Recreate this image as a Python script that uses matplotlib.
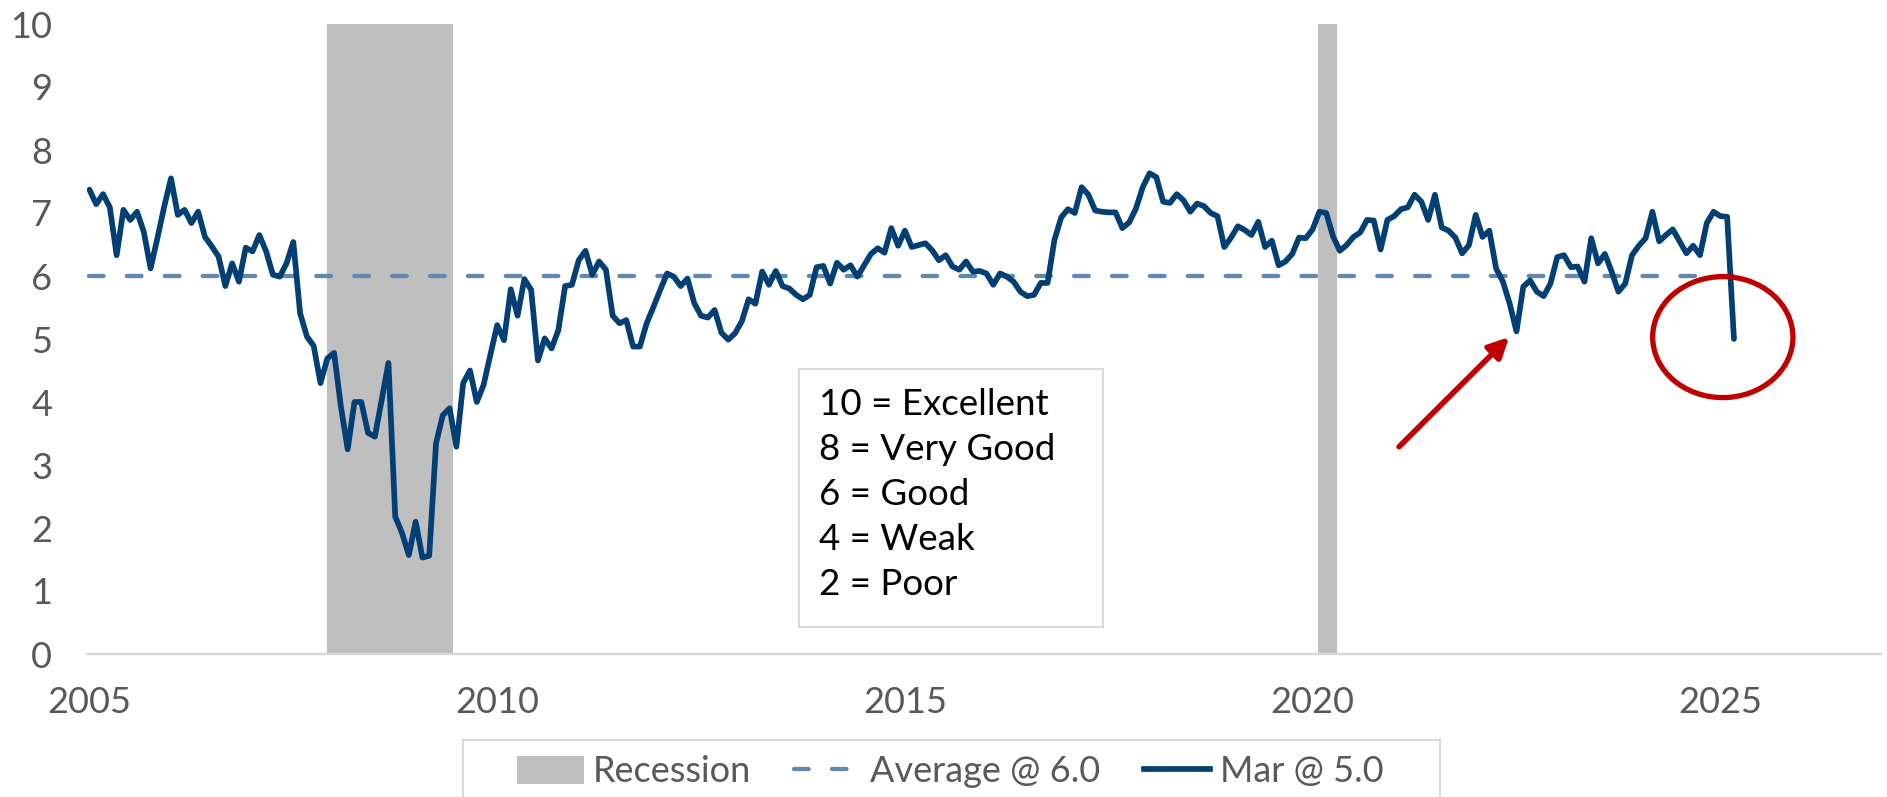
import matplotlib
matplotlib.use("Agg")
import matplotlib.pyplot as plt
from matplotlib.patches import Patch, Rectangle, Ellipse
from matplotlib.lines import Line2D

plt.rcParams['font.family'] = ['Lato', 'DejaVu Sans']

# monthly index, Jan 2005 .. Mar 2025
values = [
    7.37, 7.14, 7.30, 7.09, 6.33, 7.05, 6.89, 7.02, 6.70, 6.12, 6.60, 7.10,   # 2005
    7.55, 6.97, 7.05, 6.84, 7.02, 6.62, 6.47, 6.31, 5.84, 6.20, 5.91, 6.45,   # 2006
    6.39, 6.65, 6.39, 6.02, 5.99, 6.20, 6.54, 5.41, 5.04, 4.89, 4.30, 4.69,   # 2007
    4.78, 3.93, 3.25, 4.00, 4.00, 3.51, 3.45, 4.03, 4.62, 2.18, 1.92, 1.57,   # 2008
    2.10, 1.53, 1.56, 3.34, 3.79, 3.90, 3.29, 4.30, 4.50, 4.00, 4.27, 4.75,   # 2009
    5.22, 4.98, 5.79, 5.37, 5.95, 5.78, 4.66, 5.01, 4.85, 5.14, 5.84, 5.86,   # 2010
    6.25, 6.40, 6.02, 6.23, 6.10, 5.37, 5.25, 5.30, 4.88, 4.88, 5.25, 5.51,   # 2011
    5.78, 6.04, 5.99, 5.84, 5.96, 5.57, 5.37, 5.34, 5.46, 5.10, 4.99, 5.09,   # 2012
    5.28, 5.63, 5.56, 6.07, 5.86, 6.08, 5.84, 5.80, 5.70, 5.63, 5.70, 6.14,   # 2013
    6.16, 5.88, 6.21, 6.10, 6.17, 5.99, 6.17, 6.35, 6.44, 6.37, 6.76, 6.48,   # 2014
    6.72, 6.46, 6.49, 6.52, 6.41, 6.25, 6.33, 6.15, 6.10, 6.23, 6.07, 6.08,   # 2015
    6.04, 5.86, 6.04, 5.99, 5.91, 5.75, 5.68, 5.70, 5.89, 5.89, 6.57, 6.93,   # 2016
    7.06, 7.00, 7.41, 7.29, 7.04, 7.02, 7.01, 7.01, 6.76, 6.85, 7.07, 7.41,   # 2017
    7.63, 7.57, 7.18, 7.16, 7.30, 7.20, 7.02, 7.15, 7.11, 7.00, 6.95, 6.46,   # 2018
    6.61, 6.79, 6.73, 6.65, 6.86, 6.46, 6.56, 6.17, 6.23, 6.35, 6.61, 6.60,   # 2019
    6.74, 7.02, 7.00, 6.63, 6.40, 6.49, 6.62, 6.69, 6.89, 6.88, 6.42, 6.89,   # 2020
    6.95, 7.06, 7.09, 7.29, 7.18, 6.89, 7.29, 6.77, 6.72, 6.61, 6.36, 6.49,   # 2021
    6.97, 6.62, 6.72, 6.12, 5.91, 5.56, 5.12, 5.83, 5.93, 5.75, 5.68, 5.88,   # 2022
    6.30, 6.33, 6.14, 6.15, 5.91, 6.60, 6.20, 6.35, 6.07, 5.75, 5.88, 6.33,   # 2023
    6.48, 6.60, 7.02, 6.55, 6.65, 6.74, 6.55, 6.36, 6.48, 6.33, 6.84, 7.02,   # 2024
    6.95, 6.94, 5.00,                                                         # 2025
]
start_year = 2005
average = 6.0
recessions = [(2007 + 11 / 12, 2009.46), (2020.07, 2020.30)]
year_ticks = [2005, 2010, 2015, 2020, 2025]
scale_lines = ["10 = Excellent", "8 = Very Good", "6 = Good", "4 = Weak", "2 = Poor"]

navy = "#023f74"
avg_blue = "#6189b0"
grey_text = "#595959"
red = "#c00000"

x = [start_year + i / 12 for i in range(len(values))]

W, H = 1887, 797
fig = plt.figure(figsize=(W / 100, H / 100), dpi=100)
ax = fig.add_axes([87 / W, 1 - 654 / H, (1881 - 87) / W, (654 - 24) / H])

for a, b in recessions:
    ax.axvspan(a, b, color="#bfbfbf", lw=0, zorder=1)

ax.plot([x[0], x[-1]], [average, average], color=avg_blue, lw=3.1,
        linestyle=(0, (3.4, 5.4)), dash_capstyle="round", zorder=2)
ax.plot(x, values, color=navy, lw=4.1, solid_joinstyle="round",
        solid_capstyle="round", zorder=3)

ax.set_xlim(2004.97, 2026.97)
ax.set_ylim(0, 10)
ax.set_yticks(range(0, 11))
ax.set_xticks(year_ticks)
ax.set_xticklabels([str(y) for y in year_ticks])
ax.tick_params(axis="y", length=0, pad=25, labelsize=26, labelcolor=grey_text)
ax.tick_params(axis="x", length=0, pad=23, labelsize=26, labelcolor=grey_text)
for s in ["top", "right", "left"]:
    ax.spines[s].set_visible(False)
ax.spines["bottom"].set_color("#d9d9d9")
ax.spines["bottom"].set_linewidth(1.7)

# callouts
ax.add_patch(Ellipse((2025.03, 5.03), 1.72, 1.92, fill=False, edgecolor=red,
                     lw=3.8, zorder=4, clip_on=False))
ax.annotate("", xy=(2022.41, 5.03), xytext=(2021.06, 3.29),
            arrowprops=dict(arrowstyle="-|>", color=red, lw=4,
                            mutation_scale=30, shrinkA=0, shrinkB=0), zorder=4)

# scale box
fig.patches.append(Rectangle((799 / W, 1 - 627 / H), (1103 - 799) / W, (627 - 369) / H,
                             transform=fig.transFigure, facecolor="white",
                             edgecolor="#d9d9d9", lw=1.5, zorder=5))
for i, line in enumerate(scale_lines):
    fig.text(819 / W, 1 - (415 + 45 * i) / H, line, fontsize=26.5, color="black",
             va="baseline", ha="left", zorder=6)

# legend
fig.patches.append(Rectangle((463 / W, 1 - 805 / H), (1440 - 463) / W, (805 - 740) / H,
                             transform=fig.transFigure, facecolor="white",
                             edgecolor="#d9d9d9", lw=1.5, zorder=5))
handles = [
    Patch(facecolor="#bfbfbf", edgecolor="none"),
    Line2D([], [], color=avg_blue, lw=3.1, linestyle=(0, (3.4, 5.4)), dash_capstyle="round"),
    Line2D([], [], color=navy, lw=4.1),
]
labels = ["Recession", "Average @ 6.0", "Mar @ 5.0"]
leg = fig.legend(handles, labels, loc="center", bbox_to_anchor=(950 / W, 1 - 772 / H),
                 ncol=3, frameon=False, fontsize=26, labelcolor=grey_text,
                 handlelength=1.85, handleheight=0.8, handletextpad=0.25,
                 columnspacing=1.2, borderpad=0)
leg.set_zorder(6)

fig.savefig("out.png", dpi=100)
